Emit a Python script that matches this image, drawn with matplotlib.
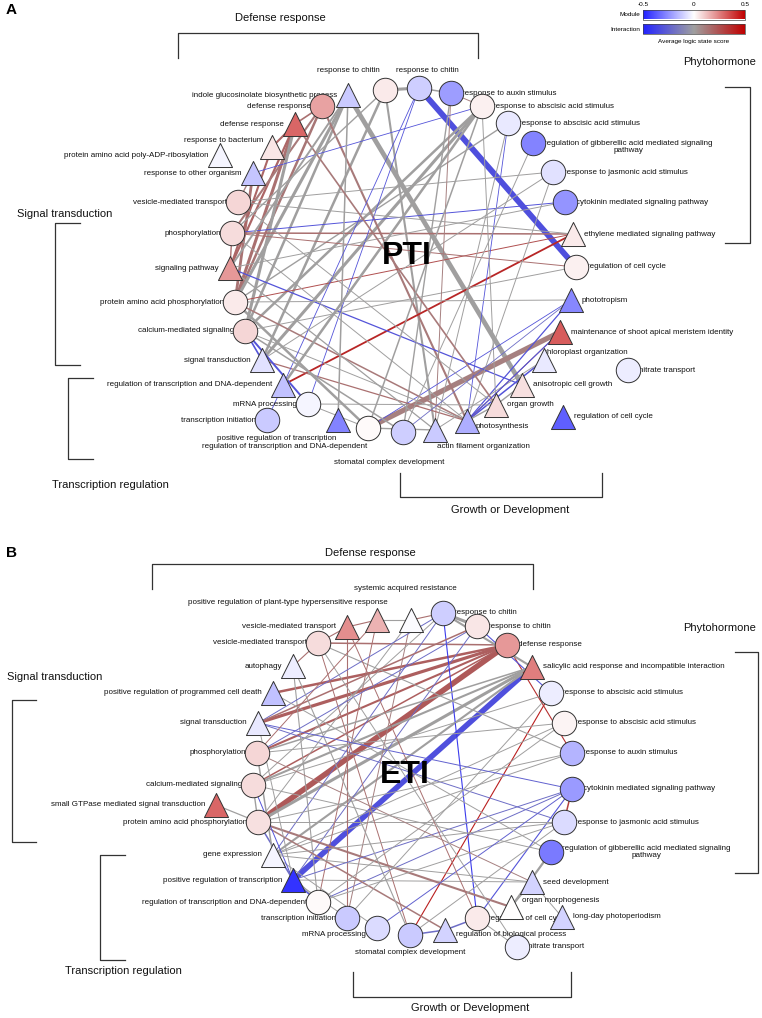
import numpy as np
import matplotlib
matplotlib.use("Agg")
import matplotlib.pyplot as plt
from matplotlib.colors import LinearSegmentedColormap, Normalize
from matplotlib.patches import Rectangle

plt.rcParams['font.family'] = ['Liberation Sans', 'DejaVu Sans']

# ---------------------------------------------------------------- data
# panel A (PTI) modules: label, shape, average logic state score
a_labels = ['indole glucosinolate biosynthetic process', 'response to chitin', 'response to chitin',
            'response to auxin stimulus', 'response to abscisic acid stimulus',
            'response to abscisic acid stimulus',
            'regulation of gibberellic acid mediated signaling\npathway',
            'response to jasmonic acid stimulus', 'cytokinin mediated signaling pathway',
            'ethylene mediated signaling pathway', 'regulation of cell cycle', 'phototropism',
            'maintenance of shoot apical meristem identity', 'chloroplast organization',
            'anisotropic cell growth', 'organ growth', 'photosynthesis', 'actin filament organization',
            'stomatal complex development', 'regulation of transcription and DNA-dependent',
            'positive regulation of transcription', 'transcription initiation', 'mRNA processing',
            'regulation of transcription and DNA-dependent', 'signal transduction',
            'calcium-mediated signaling', 'protein amino acid phosphorylation', 'signaling pathway',
            'phosphorylation', 'vesicle-mediated transport', 'response to other organism',
            'protein amino acid poly-ADP-ribosylation', 'response to bacterium', 'defense response',
            'defense response', 'nitrate transport', 'regulation of cell cycle']
a_shapes = ['^', 'o', 'o', 'o', 'o', 'o', 'o', 'o', 'o', '^', 'o', '^', '^', '^', '^', '^', '^', '^',
            'o', 'o', '^', 'o', 'o', '^', '^', 'o', 'o', '^', 'o', 'o', '^', '^', '^', '^', 'o', 'o', '^']
a_scores = [-0.12, 0.04, -0.11, -0.22, 0.03, -0.05, -0.28, -0.07, -0.24, 0.04, 0.03, -0.27,
            0.32, -0.05, 0.06, 0.07, -0.18, -0.12, -0.11, 0.01, -0.28, -0.12, -0.02, -0.14,
            -0.07, 0.08, 0.04, 0.2, 0.07, 0.08, -0.13, -0.02, 0.05, 0.3, 0.18, -0.04, -0.36]
# interactions: (module i, module j, score, weight)
a_edges = [(2, 10, -0.32, 4.2), (0, 14, 0.0, 3.4), (12, 19, 0.1, 3.8),
           (33, 26, 0.15, 2.2), (34, 26, 0.13, 1.8), (33, 27, 0.18, 1.6), (34, 28, 0.12, 1.5),
           (30, 26, 0.14, 2.0), (32, 27, 0.18, 1.5), (32, 33, 0.18, 1.5), (34, 33, 0.15, 1.2),
           (33, 25, 0.0, 2.2), (0, 26, 0.0, 2.2), (0, 25, 0.0, 1.8), (4, 24, 0.0, 2.2),
           (4, 25, 0.0, 1.8), (5, 26, 0.0, 1.0), (1, 17, 0.0, 1.5), (3, 18, 0.0, 1.0),
           (1, 24, 0.0, 1.8), (34, 16, 0.12, 1.5), (23, 9, 0.38, 1.3), (28, 8, -0.3, 0.7),
           (30, 4, -0.3, 0.6), (27, 14, -0.3, 0.9), (16, 11, -0.3, 0.9), (16, 13, -0.3, 1.1),
           (16, 12, 0.2, 0.7), (28, 9, 0.15, 1.1), (26, 9, 0.25, 0.7), (29, 7, 0.0, 0.7),
           (28, 10, 0.15, 0.7), (5, 16, -0.3, 0.6), (4, 15, 0.0, 0.7), (7, 24, 0.0, 0.7),
           (10, 25, 0.0, 0.7), (3, 17, 0.1, 0.7), (19, 11, -0.3, 0.6), (22, 15, 0.0, 0.7),
           (26, 16, 0.12, 1.1), (25, 16, 0.0, 0.7), (24, 16, 0.15, 0.9), (0, 20, 0.0, 1.1),
           (2, 21, -0.3, 0.6), (2, 22, -0.3, 0.6), (1, 2, 0.0, 2.2), (2, 3, 0.0, 1.1),
           (3, 4, 0.1, 0.7), (22, 19, 0.0, 0.7), (26, 19, 0.0, 1.8), (25, 18, 0.0, 1.1),
           (27, 17, 0.0, 0.9), (28, 16, 0.0, 0.7), (29, 15, 0.0, 0.7), (25, 22, -0.3, 1.4),
           (26, 11, 0.0, 0.7), (6, 18, 0.0, 0.7), (9, 29, 0.0, 0.7), (8, 27, 0.0, 0.7),
           (7, 16, 0.0, 0.7), (5, 17, 0.0, 0.7), (13, 17, 0.0, 0.7), (4, 23, 0.0, 1.8),
           (33, 15, 0.12, 1.2), (0, 27, 0.0, 1.4), (1, 28, 0.0, 1.0), (12, 16, -0.3, 0.8),
           (14, 15, 0.0, 1.0), (15, 16, 0.0, 1.0), (19, 17, 0.0, 1.0), (11, 18, -0.2, 0.6),
           (24, 25, -0.3, 1.2), (27, 28, 0.15, 1.0), (29, 30, 0.1, 1.0), (4, 19, 0.0, 1.1)]

# panel B (ETI)
b_labels = ['vesicle-mediated transport',
            'positive regulation of plant-type hypersensitive response',
            'systemic acquired resistance', 'response to chitin', 'response to chitin',
            'defense response', 'salicylic acid response and incompatible interaction',
            'response to abscisic acid stimulus', 'response to abscisic acid stimulus',
            'response to auxin stimulus', 'cytokinin mediated signaling pathway',
            'response to jasmonic acid stimulus',
            'regulation of gibberellic acid mediated signaling\npathway', 'seed development',
            'organ morphogenesis', 'long-day photoperiodism', 'nitrate transport',
            'regulation of cell cycle', 'regulation of biological process',
            'stomatal complex development', 'mRNA processing', 'transcription initiation',
            'regulation of transcription and DNA-dependent', 'positive regulation of transcription',
            'gene expression', 'protein amino acid phosphorylation',
            'small GTPase mediated signal transduction', 'calcium-mediated signaling',
            'phosphorylation', 'signal transduction', 'positive regulation of programmed cell death',
            'autophagy', 'vesicle-mediated transport']
b_shapes = ['^', '^', '^', 'o', 'o', 'o', '^', 'o', 'o', 'o', 'o', 'o', 'o', '^', '^', '^', 'o',
            'o', '^', 'o', 'o', 'o', 'o', '^', '^', 'o', '^', 'o', 'o', '^', '^', '^', 'o']
b_scores = [0.22, 0.15, -0.01, -0.11, 0.05, 0.2, 0.25, -0.04, 0.02, -0.17, -0.23, -0.08,
            -0.3, -0.1, 0.0, -0.1, -0.04, 0.04, -0.1, -0.12, -0.08, -0.12, 0.01, -0.46,
            -0.02, 0.06, 0.3, 0.07, 0.08, -0.05, -0.14, -0.04, 0.07]
b_edges = [(23, 6, -0.32, 4.0), (5, 25, 0.22, 4.0), (5, 29, 0.2, 2.3), (5, 30, 0.2, 1.8),
           (5, 28, 0.2, 1.5), (5, 27, 0.2, 1.1), (5, 32, 0.15, 1.1), (6, 25, 0.0, 2.2),
           (6, 24, 0.0, 1.5), (3, 17, -0.4, 0.8), (7, 19, 0.4, 0.8), (5, 9, 0.35, 0.8),
           (3, 24, -0.2, 0.7), (4, 23, -0.2, 0.7), (10, 17, -0.3, 0.8), (10, 11, 0.3, 1.1),
           (12, 14, 0.0, 1.6), (13, 14, 0.0, 1.1), (24, 8, 0.0, 0.7), (24, 9, 0.0, 0.7),
           (25, 11, 0.0, 0.7), (22, 10, -0.2, 0.7), (23, 13, 0.0, 0.7), (25, 14, 0.12, 1.5),
           (27, 7, 0.0, 0.7), (28, 8, 0.0, 0.7), (29, 11, -0.2, 0.7), (0, 21, 0.15, 0.8),
           (31, 22, 0.0, 0.8), (32, 9, 0.0, 0.8), (1, 22, 0.15, 0.7), (2, 25, 0.0, 0.7),
           (2, 21, 0.1, 0.7), (3, 27, 0.0, 0.7), (3, 29, -0.2, 0.7), (4, 28, -0.2, 0.7),
           (29, 4, 0.15, 1.1), (31, 32, 0.15, 0.8), (32, 0, 0.15, 0.8), (0, 1, 0.15, 0.8),
           (1, 2, 0.0, 0.8), (2, 3, 0.15, 0.8), (3, 4, 0.0, 2.2), (3, 6, 0.0, 1.5),
           (4, 7, -0.3, 0.8), (6, 27, 0.0, 1.5), (6, 28, 0.0, 1.1), (19, 32, 0.15, 0.7),
           (18, 25, 0.12, 1.1), (20, 24, 0.0, 0.7), (21, 23, 0.0, 0.7), (22, 24, 0.0, 0.7),
           (25, 23, -0.2, 1.1), (27, 23, -0.3, 0.7), (24, 13, 0.0, 0.7), (23, 10, -0.2, 0.7),
           (22, 8, 0.0, 0.7), (25, 9, 0.0, 0.7), (24, 11, 0.0, 0.7), (22, 11, 0.0, 0.7),
           (20, 10, -0.25, 0.7), (19, 11, 0.0, 0.7), (21, 7, 0.0, 0.7), (28, 24, 0.0, 1.1),
           (29, 23, 0.0, 0.7), (16, 17, 0.0, 0.7), (17, 18, -0.2, 1.1), (18, 19, -0.2, 1.1),
           (13, 15, 0.0, 0.7), (31, 19, 0.0, 0.8), (0, 17, 0.15, 0.7), (30, 12, 0.0, 0.7),
           (28, 13, 0.1, 0.7), (27, 12, 0.0, 0.7), (26, 25, 0.0, 0.9), (25, 27, 0.0, 1.0),
           (23, 22, -0.3, 1.0), (29, 10, -0.25, 0.7), (32, 16, 0.0, 0.7), (1, 28, 0.15, 0.7)]

# ---------------------------------------------------------------- layout (pixels)
# (x, y, label side, label dx, label dy)
a_layout = [(348, 95, 'l', 0, 0), (385, 90, 't', -37, -4), (419, 88, 't', 8, -2),
            (451, 93, 'r', 0, 0), (482, 106, 'r', 0, 0), (508, 123, 'r', 0, 0),
            (533, 143, 'r', 0, 4), (553, 172, 'r', 0, 0), (565, 202, 'r', 0, 0),
            (573, 234, 'r', 0, 0), (576, 267, 'r', 0, 0), (571, 300, 'r', 0, 0),
            (560, 332, 'r', 0, 0), (544, 360, 'r', -12, -8), (522, 385, 'r', 0, 0),
            (496, 405, 'r', 0, 0), (467, 421, 'r', -2, 5), (435, 430, 'b', 48, 1),
            (403, 432, 'b', -14, 15), (368, 428, 'b', -83, 3), (338, 420, 'b', -61, 2),
            (267, 420, 'l', 0, 0), (308, 404, 'l', 0, 0), (283, 385, 'l', 0, 0),
            (262, 360, 'l', 0, 0), (245, 331, 'l', 0, 0), (235, 302, 'l', 0, 0),
            (230, 268, 'l', 0, 0), (232, 233, 'l', 0, 0), (238, 202, 'l', 0, 0),
            (253, 173, 'l', 0, 0), (220, 155, 'l', 0, 0), (272, 147, 'l', 2, -7),
            (295, 124, 'l', 0, 0), (322, 106, 'l', 0, 0), (628, 370, 'r', 0, 0),
            (563, 417, 'r', 0, 0)]
b_layout = [(347, 627, 'l', 0, 0), (377, 620, 't', -89, -1), (411, 620, 't', -6, -16),
            (443, 613, 'r', 0, 0), (477, 626, 'r', 0, 0), (507, 645, 'r', 0, 0),
            (532, 667, 'r', 0, 0), (551, 693, 'r', 0, 0), (564, 723, 'r', 0, 0),
            (572, 753, 'r', 0, 0), (572, 789, 'r', 0, 0), (564, 822, 'r', 0, 0),
            (551, 852, 'r', 0, 0), (532, 882, 'r', 0, 0), (511, 907, 'r', 0, -7),
            (562, 917, 'r', 0, 0), (517, 947, 'r', 0, 0), (477, 918, 'r', 0, 0),
            (445, 930, 'r', 0, 5), (410, 935, 'b', 0, 2), (377, 928, 'l', 0, 7),
            (347, 918, 'l', 0, 0), (318, 902, 'l', 0, 0), (293, 880, 'l', 0, 0),
            (273, 855, 'l', 0, 0), (258, 822, 'l', 0, 0), (216, 805, 'l', 0, 0),
            (253, 785, 'l', 0, 0), (257, 753, 'l', 0, 0), (258, 723, 'l', 0, 0),
            (273, 693, 'l', 0, 0), (293, 666, 'l', 0, 0), (318, 643, 'l', 0, 0)]

# brackets: (label, text x, text y, bracket kind, coords)
a_groups = [('Defense response', 280, 18, 'top', (178, 478, 33, 58)),
            ('Phytohormone', 720, 62, 'right', (750, 87, 243, 725)),
            ('Signal transduction', 65, 214, 'left', (55, 223, 365, 80)),
            ('Transcription regulation', 110, 485, 'left', (68, 378, 459, 93)),
            ('Growth or Development', 510, 510, 'bottom', (400, 602, 497, 473))]
b_groups = [('Defense response', 370, 553, 'top', (152, 533, 564, 589)),
            ('Phytohormone', 720, 628, 'right', (758, 652, 873, 735)),
            ('Signal transduction', 55, 677, 'left', (12, 700, 842, 36)),
            ('Transcription regulation', 123, 971, 'left', (100, 855, 960, 125)),
            ('Growth or Development', 470, 1008, 'bottom', (353, 571, 997, 972))]

# ---------------------------------------------------------------- colours
norm = Normalize(-0.5, 0.5)
cmap_mod = LinearSegmentedColormap.from_list('module', ['#2222ff', '#ffffff', '#c00000'])
cmap_int = LinearSegmentedColormap.from_list('interaction', ['#2222ff', '#a0a0a0', '#c00000'])

fig = plt.figure(figsize=(7.62, 10.18), dpi=100)
ax = fig.add_axes([0, 0, 1, 1])


def draw_network(labels, shapes, scores, edges, layout, name, cx, cy):
    for i, j, s, w in edges:
        xi, yi = layout[i][:2]
        xj, yj = layout[j][:2]
        ax.plot([xi, xj], [yi, yj], color=cmap_int(norm(s)), lw=w, zorder=1,
                solid_capstyle='butt')
    ax.text(cx, cy, name, fontsize=23, fontweight='bold', ha='center', va='center',
            zorder=2)
    for k, lab in enumerate(labels):
        x, y, side, dx, dy = layout[k]
        m = shapes[k]
        ax.scatter([x], [y], s=310 if m == 'o' else 300, marker=m,
                   color=cmap_mod(norm(scores[k])), edgecolor='#333333', linewidth=0.7,
                   zorder=4)
        if side == 'l':
            tx, ty, ha = x - 11 + dx, y + dy, 'right'
        elif side == 'r':
            tx, ty, ha = x + 11 + dx, y + dy, 'left'
        elif side == 't':
            tx, ty, ha = x + dx, y - 16 + dy, 'center'
        else:
            tx, ty, ha = x + dx, y + 16 + dy, 'center'
        ax.text(tx, ty, lab, fontsize=5.8, ha=ha, va='center', multialignment='center',
                color='#111111', zorder=3, linespacing=1.15)


def draw_groups(groups):
    for lab, tx, ty, kind, c in groups:
        ax.text(tx, ty, lab, fontsize=8, ha='center', va='center', color='#111111')
        if kind in ('top', 'bottom'):
            x0, x1, y0, y1 = c
            ax.plot([x0, x0, x1, x1], [y1, y0, y0, y1], color='#333333', lw=0.9)
        else:
            x0, y0, y1, x1 = c
            ax.plot([x1, x0, x0, x1], [y0, y0, y1, y1], color='#333333', lw=0.9)


draw_network(a_labels, a_shapes, a_scores, a_edges, a_layout, 'PTI', 407, 256)
draw_network(b_labels, b_shapes, b_scores, b_edges, b_layout, 'ETI', 405, 775)
draw_groups(a_groups)
draw_groups(b_groups)

ax.text(6, 10, 'A', fontsize=11, fontweight='bold', ha='left', va='center')
ax.text(6, 553, 'B', fontsize=11, fontweight='bold', ha='left', va='center')

# legend colour bars
grad = np.linspace(-0.5, 0.5, 256)[None, :]
ax.imshow(grad, cmap=cmap_mod, norm=norm, extent=[643, 745, 19, 10], aspect='auto', zorder=5)
ax.imshow(grad, cmap=cmap_int, norm=norm, extent=[643, 745, 34, 24], aspect='auto', zorder=5)
for yb in (10, 24):
    ax.add_patch(Rectangle((643, yb), 102, 9.5, fill=False, ec='#444444', lw=0.5, zorder=6))
ax.text(640, 14.5, 'Module', fontsize=4.6, ha='right', va='center')
ax.text(640, 29, 'Interaction', fontsize=4.6, ha='right', va='center')
for v, lab in zip([-0.5, 0, 0.5], ['-0.5', '0', '0.5']):
    ax.text(643 + (v + 0.5) * 102, 4, lab, fontsize=4.6, ha='center', va='center')
ax.text(694, 41, 'Average logic state score', fontsize=4.6, ha='center', va='center')

ax.set_xlim(0, 762)
ax.set_ylim(1018, 0)
ax.axis('off')
fig.savefig('out.png', dpi=100)
